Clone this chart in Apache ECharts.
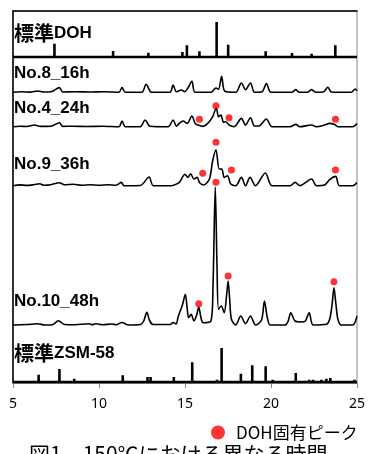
<!DOCTYPE html>
<html>
<head>
<meta charset="utf-8">
<script src="https://cdn.jsdelivr.net/npm/echarts@6.0.0/dist/echarts.min.js"></script>
<style>
html, body { margin: 0; padding: 0; background: #fff; }
#xrd { width: 368px; height: 454px; }
</style>
</head>
<body>
<div id="xrd"></div>
<script>
// x axis (2θ)
var xMin = 5, xMax = 25, xStep = 5;

// standard reference patterns, [2θ, intensity]
var dohSticks = [[7.41,13.3],[7.86,1.7],[10.82,6],[12.87,4.3],[14.85,5],[15.11,11.7],[15.84,5.7],[16.84,35],
    [17.51,12.3],[19.69,5.7],[21.22,4],[21.84,1.7],[22.36,3.3],[23.74,11.7],[23.95,1.7]];
var zsmSticks = [[6.49,7.3],[7.70,13],[8.56,3.3],[11.38,6.7],[12.82,5],[13.0,5],[14.35,5],[15.42,19.7],[16.86,2.3],
    [17.13,34],[18.25,8.3],[18.91,16.7],[19.69,15.7],[20.10,2.3],[21.44,9],[22.22,2.3],[22.45,2.3],[22.93,2.3],
    [23.22,3.3],[23.45,4],[24.85,2.3]];

// measured patterns, [2θ, intensity]
var no8Trace = [[5,0],[5.5,0.5],[6.0,0.2],[6.44,1.3],[6.8,0.3],[7.2,0.5],[7.70,4.7],[7.89,0.3],[8.6,0.5],[9.5,0.3],
    [10.3,0.5],[11.16,0],[11.34,4.7],[11.53,0],[12.49,0],[12.74,8],[13.06,0],[14.12,0],[14.31,7.3],[14.50,0.5],
    [14.79,2.3],[14.98,0.5],[15.17,4.3],[15.40,11],[15.59,0],[16.51,0],[16.80,4.3],[16.95,3],[17.13,16],[17.32,1],
    [17.95,0],[18.28,9.3],[18.52,2.7],[18.81,9.3],[19.04,0],[19.48,0.5],[19.73,8.7],[20.0,0],[21.20,0],[21.45,2.7],
    [21.64,0],[22.16,0.3],[22.36,2.7],[22.61,0],[23.03,0.3],[23.31,5],[23.51,0.3],[24.66,0],[24.9,3.3],[25,1.5]];
var no4Trace = [[5,0],[5.4,0.5],[5.8,0.2],[6.25,1.7],[6.6,0.3],[7.2,0.5],[7.70,4],[7.89,0.3],[8.5,0.5],[9.3,0.2],
    [10.2,0.5],[11.16,0],[11.34,5.7],[11.53,0],[12.4,0],[12.68,6.7],[12.97,0.5],[14.02,0],[14.31,6.7],[14.5,0.5],
    [14.65,3],[14.89,5.7],[15.13,3.3],[15.40,10.7],[15.59,3.3],[15.75,1.7],[16.03,0.3],[16.32,3.3],[16.61,10],
    [16.82,19],[16.95,10],[17.09,11.7],[17.24,4.3],[17.37,5],[17.57,1.7],[17.86,0],[18.28,8.3],[18.52,1.7],
    [18.81,9],[19.04,0.7],[19.29,0.7],[19.73,7.7],[20.06,0],[21.11,0],[21.45,2.3],[21.68,0],[22.36,1.7],[22.64,0],
    [23.12,1.7],[23.41,3.3],[23.70,2.3],[23.89,0],[24.75,0],[25,3.3]];
var no9Trace = [[5,0],[5.4,0.8],[5.8,0.3],[6.2,1],[6.55,2],[6.8,0.5],[7.2,1],[7.7,3],[8.0,1],[8.5,1.5],[9.0,0.5],
    [9.5,1],[10.0,0.5],[10.5,1],[11.0,0.5],[11.3,3.3],[11.45,0],[12.4,0.2],[12.91,8.7],[13.16,0],[14.2,0],
    [14.55,2],[14.70,4],[15.0,11.5],[15.17,8.3],[15.33,12],[15.52,6.7],[15.71,8.3],[15.84,3.3],[16.09,0.7],
    [16.42,6.7],[16.61,25],[16.80,36],[16.99,16.7],[17.14,16.7],[17.28,8.3],[17.47,10],[17.66,1.7],[17.95,0],
    [18.28,8.3],[18.52,0],[18.78,8.3],[19.10,0],[19.67,12.7],[20.06,0],[21.11,0],[21.40,3.3],[21.68,0],[22.36,6.7],
    [22.64,0],[23.12,0.7],[23.41,6],[23.76,9.3],[23.98,0],[24.75,0],[25,3.3]];
var no10Trace = [[5.0,0],[5.8,0.5],[6.44,1.2],[6.84,0],[7.3,0.3],[7.64,4.3],[7.99,0.5],[8.6,0.3],[9.43,1.2],
    [9.6,0.2],[9.83,1.2],[10.2,0.2],[10.75,1],[11.0,0.3],[11.32,2.5],[11.72,0],[12.41,0.5],[12.6,4],[12.78,12.7],
    [12.95,4],[13.16,0.5],[14.14,0.5],[14.31,2.5],[14.48,1],[14.6,8],[14.70,13],[14.85,20],[15.02,30.7],[15.12,18],
    [15.21,7.3],[15.36,10.7],[15.52,4],[15.68,10],[15.80,18],[15.92,8],[16.05,2.3],[16.51,4],[16.63,40],[16.76,138],
    [16.86,60],[16.95,15.7],[17.11,19],[17.28,12.3],[17.42,30],[17.51,44],[17.6,25],[17.70,5.7],[17.95,0],
    [18.24,9],[18.52,1.3],[18.81,9],[19.10,0],[19.45,5],[19.62,24],[19.78,8],[19.96,0],[20.82,0],[21.0,4],
    [21.15,12.3],[21.40,4],[21.78,3],[22.0,4],[22.22,12.3],[22.45,0],[23.22,0.7],[23.41,5.7],[23.55,20],
    [23.66,37.3],[23.78,20],[23.89,5.7],[24.08,0],[24.75,0],[25.0,9]];

// DOH peak marks, [2θ, height above the pattern baseline]
var no4Marks = [[15.84,7.4],[16.80,21],[17.56,9],[23.75,7.4]];
var no9Marks = [[16.03,12.4],[16.80,43.4],[17.70,15.7],[23.75,15.7]];
var no10Marks = [[15.80,21.3],[16.80,142.7],[17.51,49],[23.66,43.3]];

var markName = 'DOH固有ピーク';
var caption = '図1　150℃における異なる時間';

// vertical stacking of the patterns
var baseDoh = 326, baseNo8 = 290.7, baseNo4 = 256.3, baseNo9 = 197.3, baseNo10 = 58, baseZsm = 1;

var shift = function(points, base) {
    return points.map(function(p) { return [p[0], p[1] + base]; });
};

var sticks = function(points, base) {
    var out = [[xMin, base]];
    points.forEach(function(p) {
        out.push([p[0], base], [p[0], base + p[1]], [p[0], base]);
    });
    out.push([xMax, base]);
    return out;
};

var traceSeries = function(data, base) {
    return {
        type: 'line', data: shift(data, base), showSymbol: false, smooth: 0.3,
        lineStyle: {color: '#000', width: 1.6}, silent: true, z: 2
    };
};

var stickSeries = function(data, base) {
    return {
        type: 'line', data: sticks(data, base), showSymbol: false,
        lineStyle: {color: '#000', width: 2.6}, silent: true, z: 2
    };
};

var label = function(text, y) {
    return {
        type: 'text', left: 14, top: y - 11,
        style: {
            text: text, fill: '#000',
            font: 'bold 17px "Liberation Sans", "Noto Sans CJK JP"',
            rich: {c: {fontSize: 20, fontWeight: 'bold', fontFamily: 'Noto Sans CJK JP', fill: '#000'}}
        }
    };
};

var chart = echarts.init(document.getElementById('xrd'));
var option = {
    animation: false,
    grid: {left: 13, right: 7, top: 11, bottom: 71, show: true, borderColor: '#888', borderWidth: 1},
    legend: {
        data: [{name: markName, icon: 'circle'}],
        left: 206, top: 419, itemWidth: 14, itemHeight: 14,
        textStyle: {fontSize: 17, color: '#000', fontFamily: 'Noto Sans CJK JP', padding: [0, 0, 0, 6]}
    },
    title: {
        text: caption, left: 24, top: 439,
        textStyle: {fontSize: 21, fontWeight: 'normal', color: '#000', fontFamily: 'Noto Sans CJK JP'}
    },
    xAxis: [{
        type: 'value', min: xMin, max: xMax, interval: xStep,
        axisLine: {lineStyle: {color: '#888'}},
        axisTick: {show: true, length: 5, lineStyle: {color: '#888'}},
        axisLabel: {margin: 14, fontSize: 14, color: '#000', fontFamily: 'Noto Sans'},
        splitLine: {show: false}
    }, {
        type: 'value', min: xMin, max: xMax, position: 'top',
        axisLine: {lineStyle: {color: '#000', width: 1.5}},
        axisTick: {show: false}, axisLabel: {show: false}, splitLine: {show: false}
    }],
    yAxis: {
        type: 'value', min: 0, max: 372,
        axisLine: {show: true, lineStyle: {color: '#000', width: 1.5}},
        axisTick: {show: false}, axisLabel: {show: false}, splitLine: {show: false}
    },
    series: [
        stickSeries(dohSticks, baseDoh),
        traceSeries(no8Trace, baseNo8),
        traceSeries(no4Trace, baseNo4),
        traceSeries(no9Trace, baseNo9),
        traceSeries(no10Trace, baseNo10),
        stickSeries(zsmSticks, baseZsm),
        {
            name: markName, type: 'scatter', symbolSize: 7, z: 5,
            itemStyle: {color: '#ff0000'},
            data: shift(no4Marks, baseNo4).concat(shift(no9Marks, baseNo9), shift(no10Marks, baseNo10))
        }
    ],
    graphic: [
        label('{c|標準}DOH', 34),
        label('No.8_16h', 76),
        label('No.4_24h', 111),
        label('No.9_36h', 167),
        label('No.10_48h', 304),
        label('{c|標準}ZSM-58', 354)
    ]
};
chart.setOption(option);
</script>
</body>
</html>
